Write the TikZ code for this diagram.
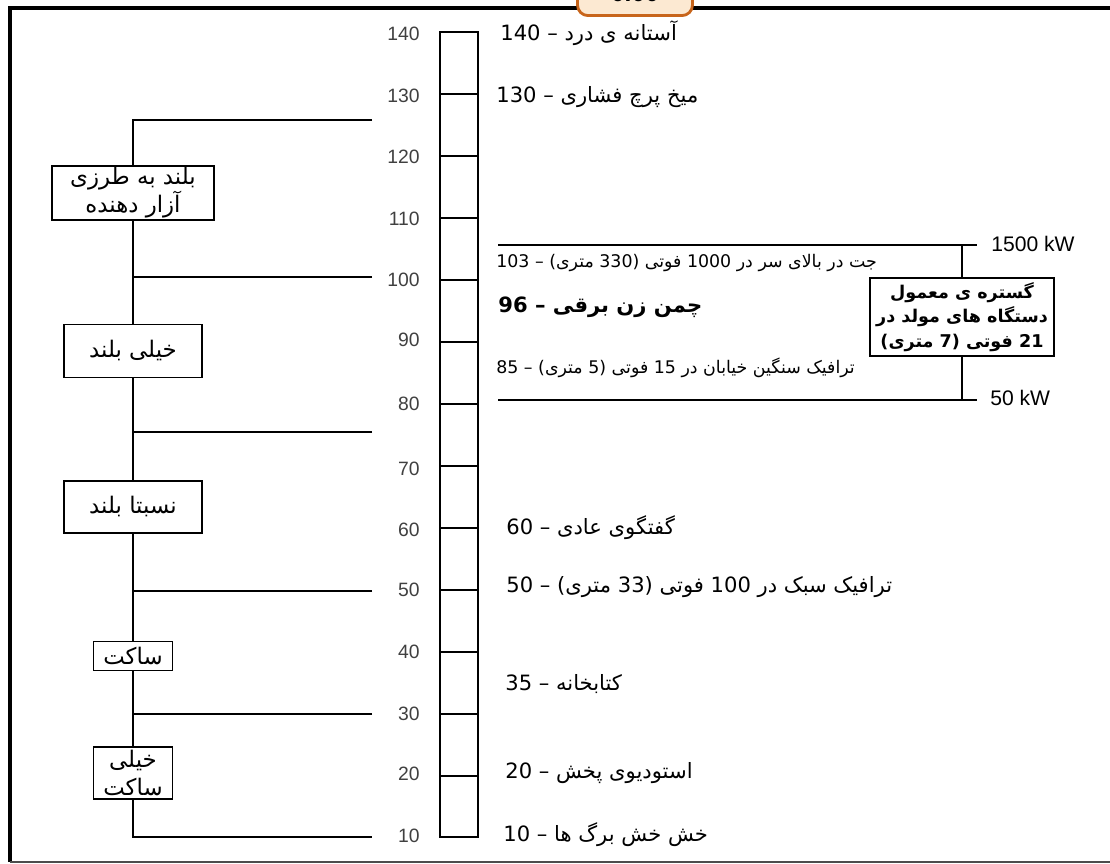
\documentclass[tikz,border=0pt]{standalone}
\usepackage{fontspec}
\setmainfont{Liberation Sans}
\newfontfamily\fa[Script=Arabic]{DejaVu Sans}
\TeXXeTstate=1
\newcommand{\fatext}[1]{{\fa\beginR #1\endR}}
\definecolor{badgefill}{HTML}{FCE9D2}
\definecolor{badgeline}{HTML}{C8651B}

\begin{document}
\begin{tikzpicture}[
    x=0.02cm,
    y=-0.02cm,
    box/.style={
        rectangle,
        draw,
        line width=1.1pt,
        align=center,
        inner sep=1pt,
        font=\fontsize{13}{16}\selectfont
    },
    wire/.style={
        line width=1.1pt
    },
    numlabel/.style={
        anchor=east,
        inner sep=0pt,
        text=black!75,
        font=\fontsize{11}{13}\selectfont
    },
    note/.style={
        anchor=west,
        inner sep=0pt,
        font=\fontsize{12}{14}\selectfont
    },
    smallnote/.style={
        anchor=west,
        inner sep=0pt,
        font=\fontsize{9.9}{12}\selectfont
    },
    badge/.style={
        rectangle,
        draw=badgeline,
        fill=badgefill,
        line width=1.6pt,
        rounded corners=6pt,
        minimum width=2.3cm,
        minimum height=0.9cm,
        font=\bfseries\fontsize{14}{16}\selectfont
    }
]

\useasboundingbox (0,0) rectangle (1110,864);
\clip (0,0) rectangle (1110,864);

% frame
\draw[line width=2.2pt] (10,862) -- (10,8) -- (1120,8);
\draw[line width=1pt, black!70] (10,862) -- (1120,862);
\node[badge, anchor=south] (clock) at (635,17) {0.00};

% scale
\draw[wire] (440,32) rectangle (478,837);
\draw[wire] (440,94) -- (478,94);
\draw[wire] (440,156) -- (478,156);
\draw[wire] (440,218) -- (478,218);
\draw[wire] (440,280) -- (478,280);
\draw[wire] (440,342) -- (478,342);
\draw[wire] (440,404) -- (478,404);
\draw[wire] (440,466) -- (478,466);
\draw[wire] (440,528) -- (478,528);
\draw[wire] (440,590) -- (478,590);
\draw[wire] (440,652) -- (478,652);
\draw[wire] (440,714) -- (478,714);
\draw[wire] (440,776) -- (478,776);

\node[numlabel] (n140) at (420,34) {140};
\node[numlabel] (n130) at (420,96) {130};
\node[numlabel] (n120) at (420,157) {120};
\node[numlabel] (n110) at (420,219) {110};
\node[numlabel] (n100) at (420,280) {100};
\node[numlabel] (n90) at (420,340) {90};
\node[numlabel] (n80) at (420,404) {80};
\node[numlabel] (n70) at (420,469) {70};
\node[numlabel] (n60) at (420,530) {60};
\node[numlabel] (n50) at (420,590) {50};
\node[numlabel] (n40) at (420,652) {40};
\node[numlabel] (n30) at (420,714) {30};
\node[numlabel] (n20) at (420,774) {20};
\node[numlabel] (n10) at (420,836) {10};

% sources
\node[note] (l140) at (500,33) {\fatext{آستانه ی درد – 140}};
\node[note] (l130) at (496,97) {\fatext{میخ پرچ فشاری – 130}};
\node[smallnote] (l103) at (496,263) {\fatext{جت در بالای سر در 1000 فوتی (330 متری) – 103}};
\node[note, font=\bfseries\fontsize{12}{14}\selectfont] (l96) at (498,307) {\fatext{چمن زن برقی – 96}};
\node[smallnote] (l85) at (496,368) {\fatext{ترافیک سنگین خیابان در 15 فوتی (5 متری) – 85}};
\node[note] (l60) at (506,528) {\fatext{گفتگوی عادی – 60}};
\node[note] (l50) at (506,587) {\fatext{ترافیک سبک در 100 فوتی (33 متری) – 50}};
\node[note] (l35) at (505,684) {\fatext{کتابخانه – 35}};
\node[note] (l20) at (505,773) {\fatext{استودیوی پخش – 20}};
\node[note] (l10) at (503,835) {\fatext{خش خش برگ ها – 10}};

% generators
\coordinate (hiL) at (498,245);
\coordinate (hiR) at (977,245);
\coordinate (loL) at (498,400);
\coordinate (loR) at (977,400);
\node[box, font=\bfseries\fontsize{10}{14}\selectfont, minimum width=3.68cm, minimum height=1.56cm] (gen) at (962,317) {\fatext{گستره ی معمول}\\\fatext{دستگاه های مولد در}\\\fatext{21 فوتی (7 متری)}};
\node[note, font=\fontsize{12}{14}\selectfont] (kw1500) at (991,244) {1500 kW};
\node[note, font=\fontsize{12}{14}\selectfont] (kw50) at (990,398) {50 kW};

\draw[wire] (hiL) -- (hiR);
\draw[wire] (loL) -- (loR);
\draw[wire] (gen) -- (gen |- hiR);
\draw[wire] (gen) -- (gen |- loR);

% loudness classes
\node[box, minimum width=3.24cm, minimum height=1.02cm] (loud) at (133,193) {\fatext{بلند به طرزی}\\\fatext{آزار دهنده}};
\node[box, minimum width=2.76cm, minimum height=1.06cm] (vloud) at (133,351) {\fatext{خیلی بلند}};
\node[box, minimum width=2.76cm, minimum height=1.04cm] (mloud) at (133,507) {\fatext{نسبتا بلند}};
\node[box, minimum width=1.58cm, minimum height=0.58cm] (quiet) at (133,656) {\fatext{ساکت}};
\node[box, minimum width=1.58cm, minimum height=1.04cm] (vquiet) at (133,773) {\fatext{خیلی}\\\fatext{ساکت}};

\coordinate (top) at (133,120);
\coordinate (topEnd) at (372,120);
\coordinate (bot) at (133,837);
\coordinate (botEnd) at (372,837);
\coordinate (br100) at (372,277);
\coordinate (br75) at (372,432);
\coordinate (br50) at (372,591);
\coordinate (br30) at (372,714);

\draw[wire] (topEnd) -- (top) -- (loud);
\draw[wire] (loud) -- (vloud);
\draw[wire] (vloud) -- (mloud);
\draw[wire] (mloud) -- (quiet);
\draw[wire] (quiet) -- (vquiet);
\draw[wire] (vquiet) -- (bot) -- (botEnd);

\draw[wire] (br100) -- (br100 -| top);
\draw[wire] (br75) -- (br75 -| top);
\draw[wire] (br50) -- (br50 -| top);
\draw[wire] (br30) -- (br30 -| top);

\end{tikzpicture}
\end{document}
